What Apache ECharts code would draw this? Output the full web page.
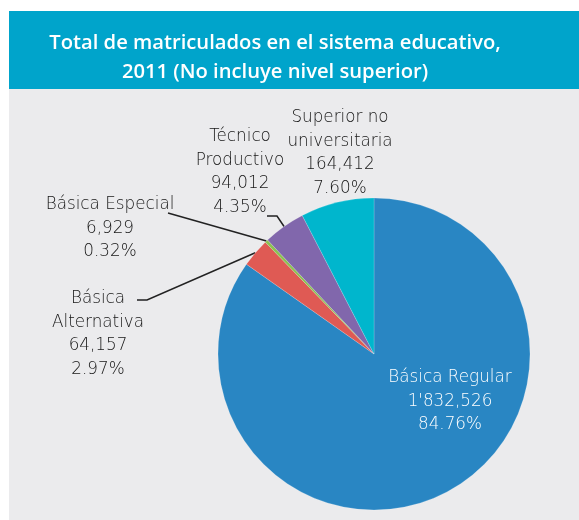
<!DOCTYPE html>
<html>
<head>
<meta charset="UTF-8">
<title>Total de matriculados</title>
<script src="https://cdn.jsdelivr.net/npm/echarts@6/dist/echarts.min.js"></script>
<style>
  html, body { margin: 0; padding: 0; background: #fff; }
  #main { width: 579px; height: 520px; }
</style>
</head>
<body>
<div id="main"></div>
<script>
// datos
var categories = ['Básica Regular', 'Básica Alternativa', 'Básica Especial', 'Técnico Productivo', 'Superior no universitaria'];
var labelNames = ['Básica Regular', 'Básica\nAlternativa', 'Básica Especial', 'Técnico\nProductivo', 'Superior no\nuniversitaria'];
var values = [1832526, 64157, 6929, 94012, 164412];
var valueLabels = ["1'832,526", '64,157', '6,929', '94,012', '164,412'];
var colors = ['#2986c3', '#df5a54', '#8cc152', '#8167ac', '#00b6cd'];

// posicion de las etiquetas (x centro, y arriba) y puntos del codo de la linea
var labelPos = [[450, 366], [98, 287], [110, 193], [240, 125], [340, 106]];
var lineEnds = [null, [[147, 300], [137, 300]], [[168, 213]], [[277, 216], [267, 216]], null];

var myChart = echarts.init(document.getElementById('main'));

var pieData = categories.map(function (c, i) {
    var item = { name: c, value: values[i], itemStyle: { color: colors[i] } };
    if (i === 0) {
        item.label = { position: 'inside', color: '#ffffff' };
    }
    if (!lineEnds[i]) {
        item.labelLine = { show: false };
    }
    return item;
});

var option = {
    backgroundColor: '#ffffff',
    animation: false,
    graphic: [
        { type: 'rect', shape: { x: 9, y: 11, width: 570, height: 78 }, style: { fill: '#00a4cb' }, z: -10 },
        { type: 'rect', shape: { x: 9, y: 89, width: 570, height: 431 }, style: { fill: '#ebebed' }, z: -10 }
    ],
    title: {
        text: 'Total de matriculados en el sistema educativo,\n2011 (No incluye nivel superior)',
        left: 270,
        top: 24,
        textAlign: 'center',
        textStyle: {
            color: '#ffffff',
            fontFamily: 'Open Sans',
            fontWeight: 600,
            fontSize: 20.2,
            lineHeight: 29
        }
    },
    series: [{
        type: 'pie',
        center: [374, 354],
        radius: 156,
        startAngle: 90,
        clockwise: true,
        percentPrecision: 2,
        itemStyle: { borderColor: 'rgba(255,255,255,0.35)', borderWidth: 0.5 },
        label: {
            show: true,
            color: '#161616',
            fontFamily: 'DejaVu Sans',
            fontWeight: 200,
            fontSize: 16.8,
            lineHeight: 23.5,
            align: 'center',
            formatter: function (p) {
                return labelNames[p.dataIndex] + '\n' + valueLabels[p.dataIndex] + '\n' + p.percent.toFixed(2) + '%';
            }
        },
        labelLine: {
            show: true,
            lineStyle: { color: '#222222', width: 1.5 }
        },
        labelLayout: function (params) {
            var i = params.dataIndex;
            var res = {
                x: labelPos[i][0],
                y: labelPos[i][1],
                align: 'center',
                verticalAlign: 'top'
            };
            if (lineEnds[i] && params.labelLinePoints) {
                var pts = [params.labelLinePoints[0]];
                var e = lineEnds[i];
                if (e.length === 1) {
                    var p0 = params.labelLinePoints[0];
                    pts.push([(p0[0] + e[0][0]) / 2, (p0[1] + e[0][1]) / 2]);
                }
                res.labelLinePoints = pts.concat(e);
            }
            return res;
        },
        data: pieData
    }]
};
myChart.setOption(option);
</script>
</body>
</html>
